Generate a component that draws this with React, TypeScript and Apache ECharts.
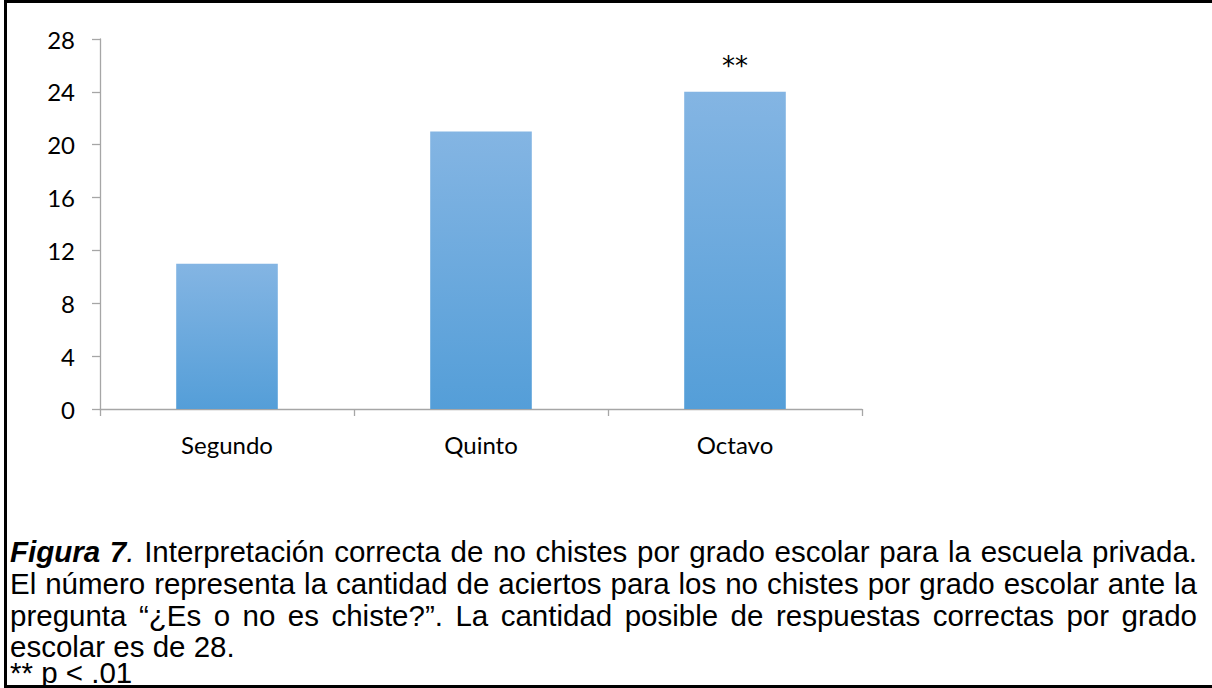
import React, { useEffect, useRef } from "react";
import * as echarts from "echarts";

// Grades and the number of correct answers for the "no chiste" items
const categories = ["Segundo", "Quinto", "Octavo"];
const aciertos = [11, 21, 24];
const significancia = ["", "", "**"];

// Value axis range
const yMin = 0;
const yMax = 28;
const yStep = 4;

// Caption below the chart
const captionLines = [
  "Figura 7. Interpretación correcta de no chistes por grado escolar para la escuela privada.",
  "El número representa la cantidad de aciertos para los no chistes por grado escolar ante la",
  "pregunta “¿Es o no es chiste?”. La cantidad posible de respuestas correctas por grado",
  "escolar es de 28.",
];
const captionJustified = [true, true, true, false];
const footnote = "** p < .01";

const AXIS_FONT = "Lato";
const CAPTION_FONT = "Liberation Sans";
const CAPTION_SIZE = 29.5;
const CAPTION_LINE = 24;
const CAPTION_LEFT = 10;
const CAPTION_RIGHT = 1197;
const CAPTION_Y = [551, 583, 615, 646];
const FOOTNOTE_Y = 672;

type Run = { text: string; bold: boolean; italic: boolean };

function cssFont(bold: boolean, italic: boolean) {
  return `${italic ? "italic " : ""}${bold ? "bold" : "normal"} ${CAPTION_SIZE}px "${CAPTION_FONT}"`;
}

function textEl(x: number, y: number, run: Run) {
  return {
    type: "text",
    x,
    y,
    silent: true,
    style: {
      text: run.text,
      fontFamily: CAPTION_FONT,
      fontSize: CAPTION_SIZE,
      lineHeight: CAPTION_LINE,
      fontWeight: run.bold ? "bold" : "normal",
      fontStyle: run.italic ? "italic" : "normal",
      fill: "#000",
      align: "left",
      verticalAlign: "middle",
    },
  };
}

// Lays out the caption word by word so that the justified lines span the full width
function captionGraphics() {
  const ctx = document.createElement("canvas").getContext("2d")!;
  const measure = (r: Run) => {
    ctx.font = cssFont(r.bold, r.italic);
    return ctx.measureText(r.text).width;
  };
  const els: any[] = [];
  captionLines.forEach((line, li) => {
    const y = CAPTION_Y[li];
    const words = line.split(" ");
    const wordRuns: Run[][] = words.map((w, wi) => {
      if (li === 0 && wi === 0) return [{ text: w, bold: true, italic: true }];
      if (li === 0 && wi === 1)
        return [
          { text: w.slice(0, -1), bold: true, italic: true },
          { text: ".", bold: false, italic: true },
        ];
      return [{ text: w, bold: false, italic: false }];
    });
    const widths = wordRuns.map((rs) => rs.reduce((s, r) => s + measure(r), 0));
    const total = widths.reduce((a, b) => a + b, 0);
    const gap = captionJustified[li]
      ? (CAPTION_RIGHT - CAPTION_LEFT - total) / (words.length - 1)
      : measure({ text: " ", bold: false, italic: false });
    let x = CAPTION_LEFT;
    wordRuns.forEach((rs) => {
      rs.forEach((r) => {
        els.push(textEl(x, y, r));
        x += measure(r);
      });
      x += gap;
    });
  });
  els.push(textEl(CAPTION_LEFT, FOOTNOTE_Y, { text: footnote, bold: false, italic: false }));
  return els;
}

export default function App() {
  const ref = useRef<HTMLDivElement>(null);

  useEffect(() => {
    if (!ref.current) return;
    const chart = echarts.init(ref.current, null, { renderer: "svg" });
    const axisGray = "#a6a6a6";

    chart.setOption({
      animation: false,
      backgroundColor: "#ffffff",
      grid: { left: 100, top: 39, width: 762, height: 370, containLabel: false },
      xAxis: {
        type: "category",
        data: categories,
        boundaryGap: true,
        axisLine: { show: true, lineStyle: { color: axisGray, width: 1.3 } },
        axisTick: { show: true, length: 7, alignWithLabel: false, lineStyle: { color: axisGray, width: 1.3 } },
        axisLabel: { color: "#000", fontFamily: AXIS_FONT, fontSize: 24, margin: 23 },
        splitLine: { show: false },
      },
      yAxis: {
        type: "value",
        min: yMin,
        max: yMax,
        interval: yStep,
        axisLine: { show: true, lineStyle: { color: axisGray, width: 1.3 } },
        axisTick: { show: true, length: 8, lineStyle: { color: axisGray, width: 1.3 } },
        axisLabel: { color: "#000", fontFamily: AXIS_FONT, fontSize: 24, margin: 25 },
        splitLine: { show: false },
      },
      series: [
        {
          type: "bar",
          data: aciertos,
          barWidth: "40%",
          itemStyle: {
            color: new echarts.graphic.LinearGradient(0, 0, 0, 1, [
              { offset: 0, color: "#84b5e3" },
              { offset: 1, color: "#549ed8" },
            ]),
          },
          label: {
            show: true,
            position: "top",
            distance: 13,
            formatter: (p: any) => significancia[p.dataIndex],
            color: "#000",
            fontFamily: "DejaVu Sans",
            fontSize: 26,
            lineHeight: 26,
          },
        },
      ],
      graphic: [
        // frame: top, left and bottom rules
        { type: "rect", silent: true, shape: { x: 4, y: 0, width: 1208, height: 3 }, style: { fill: "#000" } },
        { type: "rect", silent: true, shape: { x: 4, y: 0, width: 3, height: 688 }, style: { fill: "#000" } },
        { type: "rect", silent: true, shape: { x: 4, y: 685, width: 1208, height: 3 }, style: { fill: "#000" } },
        ...captionGraphics(),
      ],
    });

    return () => chart.dispose();
  }, []);

  return (
    <div
      ref={ref}
      style={{ position: "fixed", left: 0, top: 0, width: 1212, height: 688, background: "#fff" }}
    />
  );
}
